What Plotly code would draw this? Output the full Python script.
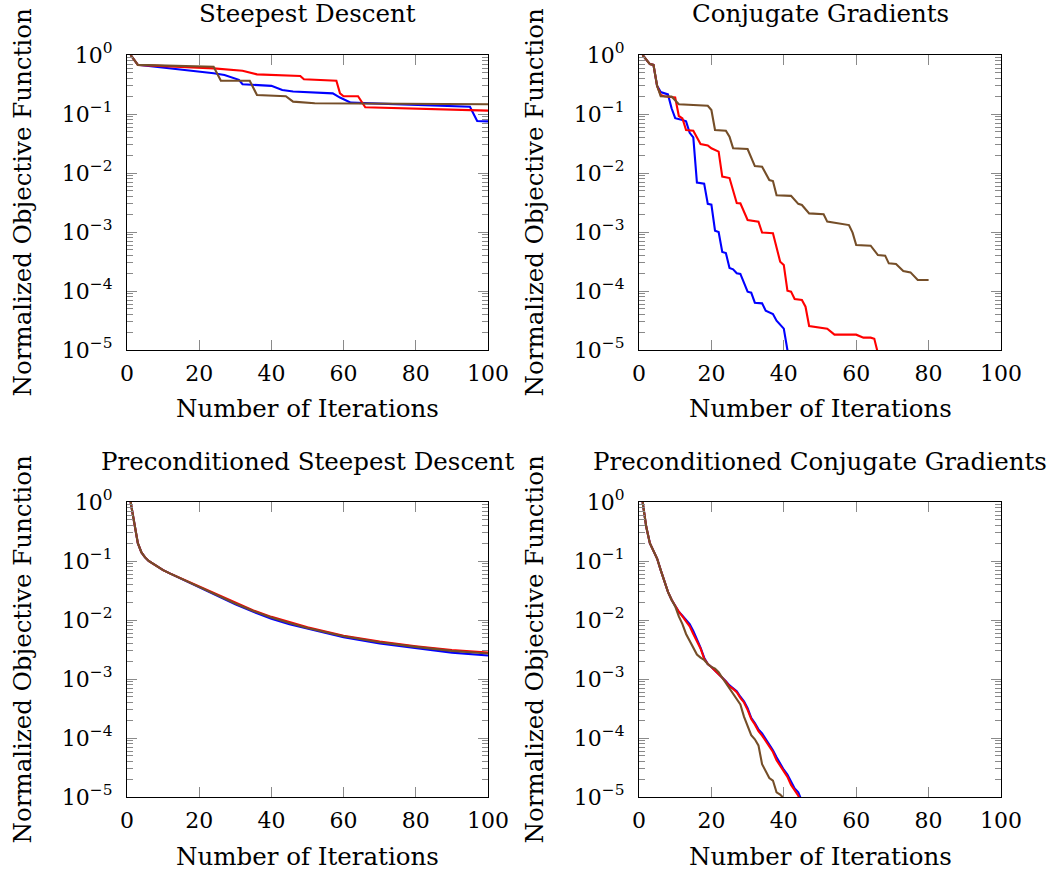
import plotly.graph_objects as go
from plotly.subplots import make_subplots

# ---------------- data: normalized objective vs. iteration ----------------
# Steepest Descent
sd_blue_it = [1, 3, 24, 27, 31, 32, 40, 43, 46, 57, 59, 62, 95, 97, 100]
sd_blue_f = [1.0, 0.68, 0.49, 0.46, 0.38, 0.32, 0.30, 0.255, 0.24, 0.224, 0.19, 0.156, 0.133, 0.076, 0.075]
sd_red_it = [1, 3, 24, 32, 36, 48, 49, 58, 59, 60, 64, 66, 100]
sd_red_f = [1.0, 0.68, 0.594, 0.54, 0.47, 0.44, 0.387, 0.367, 0.224, 0.20, 0.20, 0.13, 0.114]
sd_brown_it = [1, 3, 24, 26, 34, 36, 44, 46, 52, 100]
sd_brown_f = [1.0, 0.68, 0.634, 0.367, 0.367, 0.21, 0.20, 0.162, 0.152, 0.146]

# Conjugate Gradients
cg_blue_it = [1, 2, 3, 4, 5, 6, 8, 9, 10, 12, 13, 14, 15, 16, 18, 19, 20, 21, 22, 23, 24, 25, 26, 27, 28,
              30, 31, 32, 34, 35, 37, 38, 40, 41, 42]
cg_blue_f = [1.0, 0.82, 0.70, 0.68, 0.30, 0.235, 0.215, 0.125, 0.085, 0.079, 0.075, 0.048, 0.040, 0.0069,
             0.0066, 0.0030, 0.0029, 0.00105, 0.0010, 0.00046, 0.00044, 0.000245, 0.000233, 0.00020,
             0.000195, 0.0000975, 0.0000937, 0.0000634, 0.0000618, 0.0000464, 0.0000408, 0.0000314,
             0.000023, 0.00001, 0.000004]
cg_red_it = [1, 2, 3, 4, 5, 6, 7, 10, 11, 12, 13, 15, 17, 19, 20, 22, 23, 25, 27, 28, 30, 33, 34, 37, 39,
             40, 41, 42, 43, 45, 46, 47, 50, 52, 54, 60, 62, 64, 65, 66, 67]
cg_red_f = [1.0, 0.82, 0.70, 0.68, 0.30, 0.21, 0.20, 0.19, 0.0925, 0.0845, 0.0535, 0.0522, 0.031, 0.0294,
            0.0262, 0.023, 0.0087, 0.0082, 0.0031, 0.00306, 0.0016, 0.0015, 0.00098, 0.00095, 0.000314,
            0.000276, 0.000101, 0.0000975, 0.0000731, 0.0000703, 0.0000542, 0.0000255, 0.0000242,
            0.000023, 0.0000182, 0.0000182, 0.0000162, 0.0000162, 0.0000155, 0.0000095, 0.000005]
cg_brown_it = [1, 2, 3, 4, 5, 6, 9, 11, 15, 19, 20, 21, 24, 25, 26, 30, 32, 34, 36, 37, 38, 42, 44, 45, 47,
               51, 52, 58, 59, 60, 64, 66, 68, 69, 71, 73, 75, 77, 80]
cg_brown_f = [1.0, 0.82, 0.70, 0.68, 0.30, 0.20, 0.197, 0.146, 0.142, 0.138, 0.117, 0.0535, 0.0522, 0.0413,
              0.0262, 0.0255, 0.0131, 0.0128, 0.0076, 0.0073, 0.0042, 0.0041, 0.0030, 0.00287, 0.00207,
              0.0020, 0.0015, 0.00131, 0.000975, 0.00060, 0.000586, 0.000407, 0.000397, 0.000294,
              0.000287, 0.000218, 0.000207, 0.000154, 0.000154]

# Preconditioned Steepest Descent
psd_it = [1, 2, 3, 4, 5, 6, 8, 10, 12, 15, 20, 25, 30, 35, 40, 45, 50, 60, 70, 80, 90, 100]
psd_blue_f = [1.0, 0.42, 0.20, 0.14, 0.115, 0.10, 0.083, 0.070, 0.061, 0.050, 0.036, 0.026, 0.0185,
              0.0138, 0.0105, 0.0085, 0.0071, 0.0051, 0.0040, 0.0033, 0.0028, 0.0025]
psd_red_f = [1.0, 0.42, 0.20, 0.14, 0.115, 0.10, 0.083, 0.070, 0.061, 0.050, 0.037, 0.027, 0.0195,
             0.0145, 0.0113, 0.0091, 0.0075, 0.0054, 0.0043, 0.0036, 0.0031, 0.0028]
psd_brown_f = [1.0, 0.42, 0.20, 0.14, 0.115, 0.10, 0.083, 0.070, 0.061, 0.050, 0.0365, 0.0265, 0.019,
               0.0142, 0.011, 0.0089, 0.0073, 0.0053, 0.0042, 0.0035, 0.0030, 0.0027]

# Preconditioned Conjugate Gradients
pcg_it = list(range(1, 46))
pcg_blue_f = [1.0, 0.38, 0.20, 0.15, 0.11, 0.07, 0.045, 0.030, 0.022, 0.017, 0.0138, 0.0118, 0.0098,
              0.0085, 0.0065, 0.0048, 0.0034, 0.0023, 0.0018, 0.0016, 0.0014, 0.0012, 0.00107, 0.00092,
              0.00078, 0.0007, 0.00062, 0.0005, 0.00042, 0.00032, 0.00022, 0.00018, 0.00014, 0.00012,
              0.000097, 0.00008, 0.000062, 0.000047, 0.000036, 0.000029, 0.000024, 0.000018, 0.000014,
              0.000012, 0.0000085]
pcg_red_f = [1.0, 0.38, 0.20, 0.15, 0.11, 0.07, 0.045, 0.030, 0.022, 0.017, 0.0138, 0.0115, 0.0095,
             0.0078, 0.0058, 0.0044, 0.0033, 0.0022, 0.0018, 0.0016, 0.0014, 0.0012, 0.00105, 0.0009,
             0.00075, 0.00068, 0.0006, 0.00048, 0.0004, 0.0003, 0.00021, 0.00017, 0.00013, 0.00011,
             0.000088, 0.000072, 0.000058, 0.000042, 0.000034, 0.000027, 0.000022, 0.000016, 0.000013,
             0.0000105, 0.000007]
pcg_brown_it = list(range(1, 41))
pcg_brown_f = [1.0, 0.38, 0.20, 0.15, 0.11, 0.07, 0.045, 0.030, 0.022, 0.017, 0.0115, 0.0085, 0.0058,
               0.0045, 0.0033, 0.0026, 0.0023, 0.0021, 0.0018, 0.0016, 0.0015, 0.0013, 0.00105, 0.00085,
               0.00068, 0.00055, 0.00046, 0.00037, 0.00023, 0.00016, 0.000112, 0.000095, 0.000075,
               0.000036, 0.000027, 0.000021, 0.000019, 0.000012, 0.000011, 0.0000095]

titles = ["Steepest Descent", "Conjugate Gradients",
          "Preconditioned Steepest Descent", "Preconditioned Conjugate Gradients"]
x_label = "Number of Iterations"
y_label = "Normalized Objective Function"
x_tick_vals = [0, 20, 40, 60, 80, 100]
y_exponents = [-5, -4, -3, -2, -1, 0]

# ---------------- styling ----------------
W, H = 1056, 879
FONT = "DejaVu Serif"
TICK_COLOR = "#8a8a8a"
BLUE, RED, BROWN = "rgb(0,0,255)", "rgb(255,0,0)", "rgb(117,78,40)"

# plot-area boxes in pixels: (left, right, top, bottom)
cols_px = [(127, 488), (639, 1001)]
rows_px = [(55, 350), (502, 797)]

panels = [
    (1, 1, [(sd_blue_it, sd_blue_f, BLUE), (sd_red_it, sd_red_f, RED), (sd_brown_it, sd_brown_f, BROWN)]),
    (1, 2, [(cg_blue_it, cg_blue_f, BLUE), (cg_red_it, cg_red_f, RED), (cg_brown_it, cg_brown_f, BROWN)]),
    (2, 1, [(psd_it, psd_blue_f, BLUE), (psd_it, psd_red_f, RED), (psd_it, psd_brown_f, BROWN)]),
    (2, 2, [(pcg_it, pcg_blue_f, BLUE), (pcg_it, pcg_red_f, RED), (pcg_brown_it, pcg_brown_f, BROWN)]),
]

fig = make_subplots(rows=2, cols=2)

for r, c, series in panels:
    for xs, ys, col in series:
        fig.add_trace(go.Scatter(x=xs, y=ys, mode="lines", line=dict(color=col, width=2.1),
                                 showlegend=False, hoverinfo="skip"), row=r, col=c)

minor_vals = [m * 10.0 ** e for e in range(-5, 0) for m in range(2, 10)]
y_tick_vals = [10.0 ** e for e in y_exponents]
y_tick_text = ["10<sup>%s</sup>" % (str(e).replace("-", "\u2212")) for e in y_exponents]

tickfont = dict(family=FONT, size=22, color="black")
xcommon = dict(range=[0, 100], tickmode="array", tickvals=x_tick_vals, ticks="inside", ticklen=10,
               tickwidth=1, tickcolor=TICK_COLOR, showline=True, linecolor="black", linewidth=1.3,
               mirror="allticks", showgrid=False, zeroline=False, tickfont=tickfont,
               automargin=False, ticklabelstandoff=3)
ycommon = dict(type="log", range=[-5, 0], tickmode="array", tickvals=y_tick_vals, ticktext=y_tick_text,
               ticks="inside", ticklen=10, tickwidth=1, tickcolor=TICK_COLOR, showline=True,
               linecolor="black", linewidth=1.3, mirror="allticks", showgrid=False, zeroline=False,
               tickfont=tickfont, automargin=False, ticklabelstandoff=9,
               minor=dict(tickmode="array", tickvals=minor_vals, ticks="inside", ticklen=6,
                          tickwidth=1, tickcolor=TICK_COLOR, showgrid=False))

annotations = []
for idx, (r, c, _) in enumerate(panels):
    (x0, x1), (y0, y1) = cols_px[c - 1], rows_px[r - 1]
    n = idx + 1
    xname = "xaxis" if n == 1 else "xaxis%d" % n
    yname = "yaxis" if n == 1 else "yaxis%d" % n
    fig.layout[xname].update(domain=[x0 / W, x1 / W], **xcommon)
    fig.layout[yname].update(domain=[1 - y1 / H, 1 - y0 / H], **ycommon)

    xc = (x0 + x1) / 2
    yc = (y0 + y1) / 2
    annotations.append(dict(text=titles[idx], x=xc / W, y=1 - (y0 - 41) / H, xref="paper", yref="paper",
                            xanchor="center", yanchor="middle", showarrow=False,
                            font=dict(family=FONT, size=24.5, color="black")))
    annotations.append(dict(text=x_label, x=xc / W, y=1 - (y1 + 59) / H, xref="paper", yref="paper",
                            xanchor="center", yanchor="middle", showarrow=False,
                            font=dict(family=FONT, size=24.5, color="black")))
    annotations.append(dict(text=y_label, x=(x0 - 105) / W, y=1 - yc / H, xref="paper", yref="paper",
                            xanchor="center", yanchor="middle", textangle=-90, showarrow=False,
                            font=dict(family=FONT, size=24.5, color="black")))

fig.update_layout(template="none", width=W, height=H,
                  margin=dict(l=0, r=0, t=0, b=0, pad=0, autoexpand=False),
                  paper_bgcolor="white", plot_bgcolor="white", annotations=annotations,
                  showlegend=False)

fig.write_html("out.html")
